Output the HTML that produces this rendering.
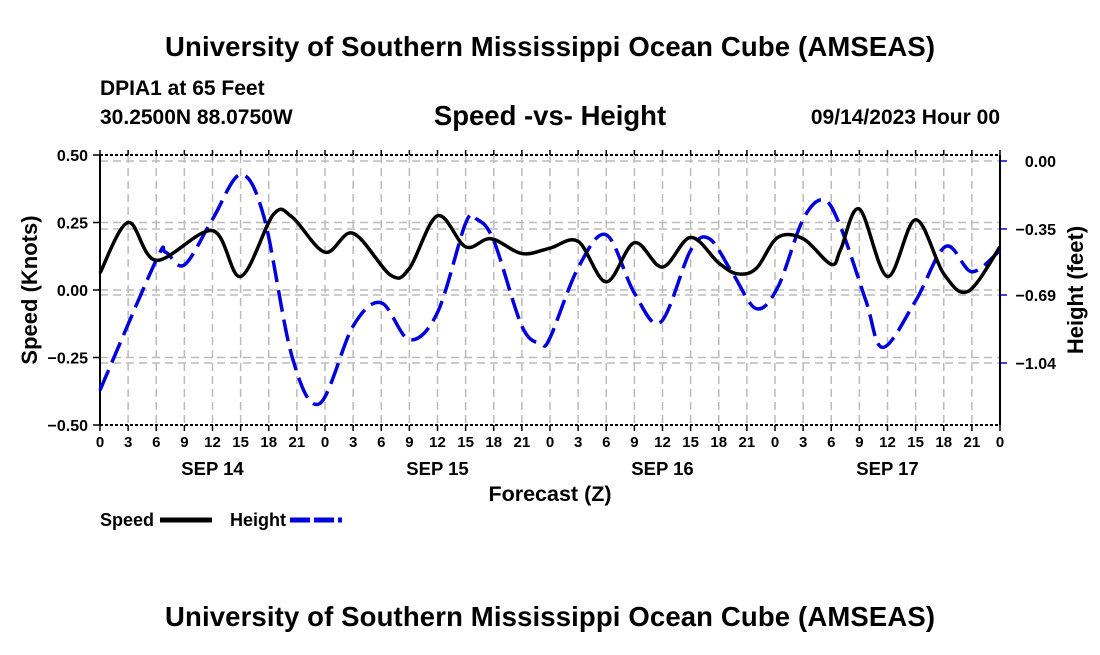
<!DOCTYPE html>
<html><head><meta charset="utf-8"><style>
body{margin:0;background:#fff;}
svg text{font-family:"Liberation Sans",sans-serif;font-weight:bold;fill:#000;}
</style></head><body>
<svg id="chart" width="1100" height="650" xmlns="http://www.w3.org/2000/svg">
<text x="550" y="56" font-size="27.5" text-anchor="middle" textLength="770">University of Southern Mississippi Ocean Cube (AMSEAS)</text>
<text x="100" y="95" font-size="21">DPIA1 at 65 Feet</text>
<text x="100" y="124" font-size="21">30.2500N  88.0750W</text>
<text x="550" y="125" font-size="27.5" text-anchor="middle">Speed -vs- Height</text>
<text x="1000" y="124" font-size="21" text-anchor="end">09/14/2023 Hour 00</text>
<g id="grid"></g>
<g id="axes"></g>
<g id="series"></g>
<text transform="translate(37,290) rotate(-90)" font-size="22" text-anchor="middle">Speed (Knots)</text>
<text transform="translate(1083,290) rotate(-90)" font-size="22" text-anchor="middle">Height (feet)</text>
<text x="550" y="501" font-size="21.5" text-anchor="middle">Forecast (Z)</text>
<g>
<text x="100" y="526" font-size="18">Speed</text>
<line x1="160" y1="520" x2="212" y2="520" stroke="#000" stroke-width="5"/>
<text x="230" y="526" font-size="18">Height</text>
<line x1="290" y1="520" x2="342" y2="520" stroke="#0000dd" stroke-width="5" stroke-dasharray="20,4"/>
</g>
<text x="550" y="626" font-size="27.5" text-anchor="middle" textLength="770">University of Southern Mississippi Ocean Cube (AMSEAS)</text>
</svg>
<script>
const speedHours=[0,3,6,12,15,18.5,20.5,24,27,31,33,36,39,41.7,45,48,51,54,57,60,63,66,68,70,72.3,75,78,79,81,84,87,90,92.6,96];
const speedValues=[0.063,0.25,0.11,0.22,0.05,0.28,0.27,0.14,0.21,0.055,0.08,0.275,0.16,0.19,0.135,0.155,0.18,0.03,0.175,0.085,0.195,0.10,0.06,0.08,0.195,0.19,0.095,0.15,0.30,0.05,0.26,0.06,-0.005,0.16];
const heightHours=[0,6,7,9,12,15,17.5,20.5,23.4,27,30,33,36,39,40.2,42,45,47,48,51,54,57,59.8,63,65,67.5,70,72.3,75,77.2,79,81.7,83.5,87,90.2,93,96];
const heightValues=[-1.18,-0.51,-0.47,-0.535,-0.30,-0.07,-0.29,-1.01,-1.25,-0.85,-0.73,-0.92,-0.78,-0.32,-0.30,-0.41,-0.85,-0.94,-0.91,-0.55,-0.38,-0.68,-0.83,-0.46,-0.40,-0.58,-0.76,-0.65,-0.30,-0.20,-0.34,-0.72,-0.96,-0.72,-0.44,-0.57,-0.46];
const speedTicks=[0.5,0.25,0,-0.25,-0.5];
const speedTickLabels=["0.50","0.25","0.00","\u22120.25","\u22120.50"];
const heightTicks=[0,-0.35,-0.69,-1.04];
const heightTickLabels=["0.00","\u22120.35","\u22120.69","\u22121.04"];
const hourTickLabels=["0","3","6","9","12","15","18","21"];
const dayLabels=["SEP 14","SEP 15","SEP 16","SEP 17"];

const L=100,R=1000,T=155,B=425;
const xs=h=>L+h*(R-L)/96;
const ys=v=>290-v*270;
const yh=f=>161-f*194.2;
const NS="http://www.w3.org/2000/svg";
function mk(tag,attrs,parent){const e=document.createElementNS(NS,tag);for(const k in attrs)e.setAttribute(k,attrs[k]);parent.appendChild(e);return e;}
const grid=document.getElementById('grid'),axes=document.getElementById('axes'),ser=document.getElementById('series');
const gs={stroke:"#bbb","stroke-width":1.5,"stroke-dasharray":"8,5",fill:"none"};
for(let i=1;i<32;i++){const l=mk('line',Object.assign({x1:xs(i*3),x2:xs(i*3),y1:T,y2:B},gs),grid);

}
speedTicks.forEach((v,i)=>{const y=ys(v);
if(i>0&&i<4){const l=mk('line',Object.assign({x1:L,x2:R,y1:y,y2:y},gs),grid);

}
mk('line',{x1:L-7,x2:L,y1:y,y2:y,stroke:"#000","stroke-width":1.5},axes);
const t=mk('text',{x:L-12,y:y+6,"font-size":16,"text-anchor":"end"},axes);t.textContent=speedTickLabels[i];

});
heightTicks.forEach((v,i)=>{const y=yh(v);
const l=mk('line',Object.assign({x1:L,x2:R,y1:y,y2:y},gs),grid);


mk('line',{x1:R,x2:R+7,y1:y,y2:y,stroke:"#0000dd","stroke-width":1.5},axes);
const t=mk('text',{x:1056,y:y+6,"font-size":16,"text-anchor":"end"},axes);t.textContent=heightTickLabels[i];

});
mk('line',{x1:L,x2:L,y1:T,y2:B,stroke:"#000","stroke-width":2},axes);
mk('line',{x1:R,x2:R,y1:T,y2:B,stroke:"#000","stroke-width":2},axes);
mk('line',{x1:L,x2:R,y1:T,y2:T,stroke:"#000","stroke-width":2,"stroke-dasharray":"3,2"},axes);
mk('line',{x1:L,x2:R,y1:B,y2:B,stroke:"#000","stroke-width":2,"stroke-dasharray":"3,2"},axes);
for(let i=0;i<=32;i++){const x=xs(i*3);
mk('line',{x1:x,x2:x,y1:B,y2:B+6,stroke:"#000","stroke-width":1.5},axes);
mk('line',{x1:x,x2:x,y1:T-5,y2:T,stroke:"#000","stroke-width":1.5},axes);
const t=mk('text',{x:x,y:447,"font-size":15,"text-anchor":"middle"},axes);t.textContent=i==32?"0":hourTickLabels[i%8];

}
dayLabels.forEach((d,i)=>{const t=mk('text',{x:xs(12+24*i),y:475,"font-size":18.5,"text-anchor":"middle"},axes);t.textContent=d;

});
function smooth(pts){let d=`M${pts[0][0]},${pts[0][1]}`;
for(let i=0;i<pts.length-1;i++){const p0=pts[Math.max(0,i-1)],p1=pts[i],p2=pts[i+1],p3=pts[Math.min(pts.length-1,i+2)];
const c1=[p1[0]+(p2[0]-p0[0])/6,p1[1]+(p2[1]-p0[1])/6],c2=[p2[0]-(p3[0]-p1[0])/6,p2[1]-(p3[1]-p1[1])/6];
d+=` C${c1[0]},${c1[1]} ${c2[0]},${c2[1]} ${p2[0]},${p2[1]}`;}return d;}
const hp=mk('path',{d:smooth(heightHours.map((h,i)=>[xs(h),yh(heightValues[i])])),stroke:"#0000dd","stroke-width":3.5,fill:"none","stroke-dasharray":"22,8"},ser);


const sp=mk('path',{d:smooth(speedHours.map((h,i)=>[xs(h),ys(speedValues[i])])),stroke:"#000","stroke-width":3.5,fill:"none"},ser);


</script>
</body></html>
